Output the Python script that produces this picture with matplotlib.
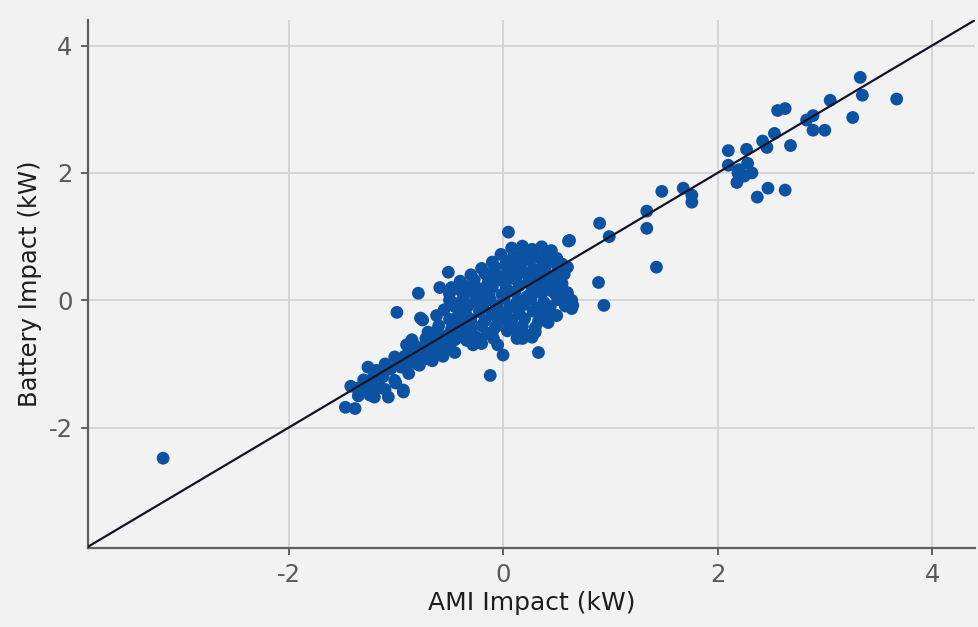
import matplotlib
matplotlib.use("Agg")
import matplotlib.pyplot as plt

# AMI impact (x) and Battery impact (y), kW
upper_x = [3.33, 3.35, 3.67, 3.26, 3.05, 3.00, 2.89, 2.89, 2.83, 2.56, 2.63, 2.53, 2.68, 2.42, 2.46,
           2.27, 2.10, 2.10, 2.28, 2.32, 2.19, 2.18, 2.37, 2.47, 2.63, 2.20, 2.25]
upper_y = [3.50, 3.22, 3.16, 2.87, 3.14, 2.67, 2.67, 2.90, 2.83, 2.98, 3.01, 2.62, 2.43, 2.50, 2.40,
           2.37, 2.35, 2.12, 2.15, 2.00, 2.00, 1.85, 1.62, 1.76, 1.73, 2.05, 1.95]

mid_x = [1.68, 1.76, 1.76, 1.48, 1.34, 1.34, 0.90, 0.99, 1.43, 0.89, 0.94, 0.62, 0.55, 0.55, 0.55,
         0.64, 0.64, 0.05, 0.61]
mid_y = [1.76, 1.65, 1.54, 1.71, 1.40, 1.13, 1.21, 1.00, 0.52, 0.28, -0.08, 0.94, 0.39, 0.16, 0.00,
         0.00, -0.13, 1.07, 0.93]

low_x = [-3.17, -1.47, -1.38, -1.36, -1.26, -1.21, -1.15, -1.07, -1.24, -0.93, -1.01, -1.01, -0.99,
         -0.77, -0.62, -0.51, -0.79, -0.59, -0.42, -0.12, 0.00, 0.33, 0.18, 0.27, -0.09, -0.34,
         -0.45, -0.93, -0.75]
low_y = [-2.48, -1.68, -1.70, -1.38, -1.05, -1.21, -1.37, -1.52, -1.49, -1.41, -1.26, -0.89, -0.19,
         -0.28, -0.24, 0.44, 0.11, 0.20, 0.19, -1.18, -0.86, -0.82, -0.60, -0.58, -0.60, -0.63,
         -0.82, -1.44, -0.31]

band_x = [-1.30, -1.25, -1.18, -1.12, -1.10, -1.05, -0.98, -0.95, -0.92, -0.88, -0.85, -0.82, -0.80,
          -0.78, -0.75, -0.72, -0.70, -0.68, -0.65, -0.62, -0.60, -0.58, -0.55, -0.52, -0.50, -0.48,
          -0.45, -0.42, -0.40, -0.38, -0.35, -0.85, -0.90, -0.70, -1.35, -1.42, -1.30, -1.20, -1.10,
          -1.00, -0.88, -0.78, -0.66, -0.56, -0.46, -0.60, -0.50, -0.40, -0.30, -0.25, -0.35, -0.45,
          -0.55, -0.20, -0.15, -0.05, -0.28, -0.62, -0.72, -0.83]
band_y = [-1.25, -1.35, -1.10, -1.20, -1.00, -1.08, -0.95, -1.05, -0.88, -0.98, -0.80, -0.90, -1.00,
          -0.75, -0.85, -0.70, -0.92, -0.80, -0.65, -0.75, -0.58, -0.85, -0.68, -0.55, -0.75, -0.45,
          -0.62, -0.50, -0.35, -0.58, -0.42, -0.62, -0.70, -0.50, -1.50, -1.35, -1.42, -1.52, -1.40,
          -1.30, -1.15, -1.02, -0.95, -0.88, -0.30, -0.40, -0.30, -0.20, -0.45, -0.58, -0.10, -0.05,
          -0.15, -0.68, -0.52, -0.70, -0.70, -0.48, -0.60, -0.70]

blob_x = [0.08, 0.18, 0.27, 0.36, 0.45,
          -0.02, 0.10, 0.19, 0.30, 0.41, 0.50,
          -0.10, 0.03, 0.14, 0.25, 0.37, 0.46, 0.55,
          -0.20, -0.08, 0.05, 0.16, 0.28, 0.39, 0.51, 0.60,
          -0.30, -0.17, -0.04, 0.09, 0.21, 0.33, 0.44, 0.57,
          -0.40, -0.27, -0.14, -0.01, 0.12, 0.24, 0.36, 0.48, 0.55,
          -0.48, -0.35, -0.22, -0.10, 0.03, 0.15, 0.27, 0.40, 0.53,
          -0.50, -0.38, -0.26, -0.13, -0.01, 0.11, 0.24, 0.36, 0.49, 0.60,
          -0.50, -0.37, -0.24, -0.12, 0.01, 0.14, 0.26, 0.38, 0.51, 0.65,
          -0.45, -0.32, -0.19, -0.06, 0.06, 0.19, 0.31, 0.44, 0.58,
          -0.35, -0.22, -0.10, 0.03, 0.15, 0.28, 0.40, 0.50,
          -0.30, -0.17, -0.05, 0.08, 0.20, 0.33, 0.41,
          -0.20, -0.07, 0.06, 0.18, 0.30,
          -0.10, 0.04, 0.15, 0.25, 0.13,
          0.02, 0.14, 0.24, 0.33, 0.22, 0.12, 0.35, 0.45, 0.08, -0.12, -0.25, -0.05,
          0.10, 0.30, 0.42, 0.20, -0.15, -0.30, 0.00, 0.40]
blob_y = [0.82, 0.85, 0.80, 0.84, 0.78,
          0.72, 0.70, 0.74, 0.68, 0.71, 0.66,
          0.60, 0.62, 0.58, 0.63, 0.59, 0.61, 0.57,
          0.50, 0.52, 0.48, 0.53, 0.49, 0.51, 0.47, 0.52,
          0.40, 0.42, 0.38, 0.41, 0.43, 0.39, 0.37, 0.41,
          0.30, 0.32, 0.28, 0.31, 0.33, 0.29, 0.27, 0.31, 0.26,
          0.20, 0.22, 0.18, 0.21, 0.19, 0.23, 0.17, 0.21, 0.19,
          0.10, 0.12, 0.08, 0.11, 0.09, 0.13, 0.07, 0.11, 0.09, 0.12,
          0.00, 0.02, -0.02, 0.01, 0.03, -0.01, 0.02, -0.03, 0.01, -0.08,
          -0.10, -0.08, -0.12, -0.09, -0.11, -0.07, -0.12, -0.10, -0.09,
          -0.20, -0.18, -0.22, -0.19, -0.21, -0.17, -0.23, -0.24,
          -0.30, -0.32, -0.28, -0.31, -0.29, -0.33, -0.30,
          -0.40, -0.42, -0.38, -0.41, -0.43,
          -0.50, -0.48, -0.52, -0.55, -0.60,
          0.55, 0.45, 0.35, 0.20, 0.05, -0.05, -0.15, 0.15, 0.35, 0.35, 0.05, -0.35,
          -0.45, -0.50, -0.35, 0.65, 0.05, 0.15, -0.25, 0.70]

x = upper_x + mid_x + low_x + band_x + blob_x
y = upper_y + mid_y + low_y + band_y + blob_y

x_ticks = [-2, 0, 2, 4]
y_ticks = [-2, 0, 2, 4]

BG = "#f2f2f2"
plt.rcParams['font.family'] = ['DejaVu Sans']
fig = plt.figure(figsize=(9.79, 6.27), dpi=100, facecolor=BG)
ax = fig.add_axes([0.0899, 0.126, 0.906, 0.842], facecolor=BG)

ax.grid(True, color="#d6d6d6", linewidth=1.4, zorder=0)
ax.set_axisbelow(True)
ax.scatter(x, y, s=85, color="#0b52a3", edgecolors="none", zorder=2)
ax.axline((0, 0), slope=1, color="#141428", linewidth=1.6, zorder=3)

ax.set_xlim(-3.87, 4.40)
ax.set_ylim(-3.89, 4.40)
ax.set_xticks(x_ticks)
ax.set_yticks(y_ticks)
ax.set_xticklabels([str(t) for t in x_ticks])
ax.set_yticklabels([str(t) for t in y_ticks])

for s in ["top", "right"]:
    ax.spines[s].set_visible(False)
for s in ["left", "bottom"]:
    ax.spines[s].set_color("#606060")
    ax.spines[s].set_linewidth(1.6)

ax.tick_params(axis="both", direction="out", length=5, width=1.4, color="#606060",
               labelcolor="#5a5a5a", labelsize=17.5, pad=6)
ax.set_xlabel("AMI Impact (kW)", fontsize=18, color="#1e1e1e", labelpad=3)
ax.set_ylabel("Battery Impact (kW)", fontsize=17.5, color="#1e1e1e", labelpad=5)

fig.savefig("out.png", dpi=100, facecolor=BG)
